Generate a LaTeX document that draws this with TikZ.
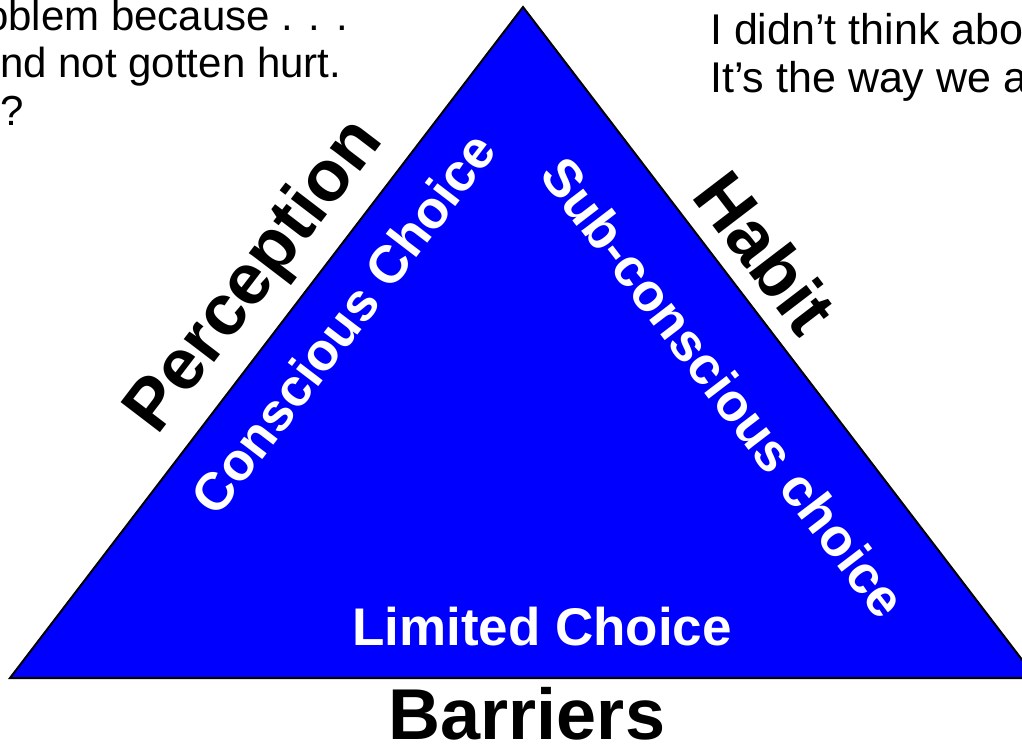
\documentclass[tikz,border=0pt]{standalone}
\usepackage{fontspec}
\setmainfont{Liberation Sans}
\definecolor{triblue}{RGB}{0,0,255}
\tikzset{
  corner/.style={font=\bfseries\fontsize{72}{80}\selectfont},
  inside/.style={text=white, font=\bfseries\fontsize{53}{60}\selectfont},
  quote/.style={anchor=base west, inner sep=0pt, font=\fontsize{42}{48}\selectfont}
}
\begin{document}
\begin{tikzpicture}[x=1pt, y=-1pt]
\useasboundingbox (0,0) rectangle (1022,748);
\clip (0,0) rectangle (1022,748);
% triangle
\coordinate (top) at (523,7);
\coordinate (bl) at (10,678);
\coordinate (br) at (1036,678);
\draw [fill=triblue, line width=2pt, line join=miter] (top) -- (bl) -- (br) -- cycle;
% sides
\node [corner, rotate=52.6] (perception) at (256,277) {Perception};
\node [corner, rotate=-52.6] (habit) at (766,252) {Habit};
\node [corner] (barriers) at (527,714) {Barriers};
\node [inside, rotate=52.6] (conscious) at (343,323) {Conscious Choice};
\node [inside, rotate=-52.6] (subconscious) at (724,387) {Sub-conscious choice};
\node [inside] (limited) at (542,627) {Limited Choice};
% quotes
\node [quote] (qa) at (-15,30) {oblem because . . .};
\node [quote] (qb) at (0,77) {nd not gotten hurt.};
\node [quote] (qc) at (0,125) {?};
\node [quote, font=\fontsize{43}{48}\selectfont] (qd) at (710,44) {I didn’t think abo};
\node [quote, font=\fontsize{43}{48}\selectfont] (qe) at (710,92) {It’s the way we a};
\end{tikzpicture}
\end{document}
